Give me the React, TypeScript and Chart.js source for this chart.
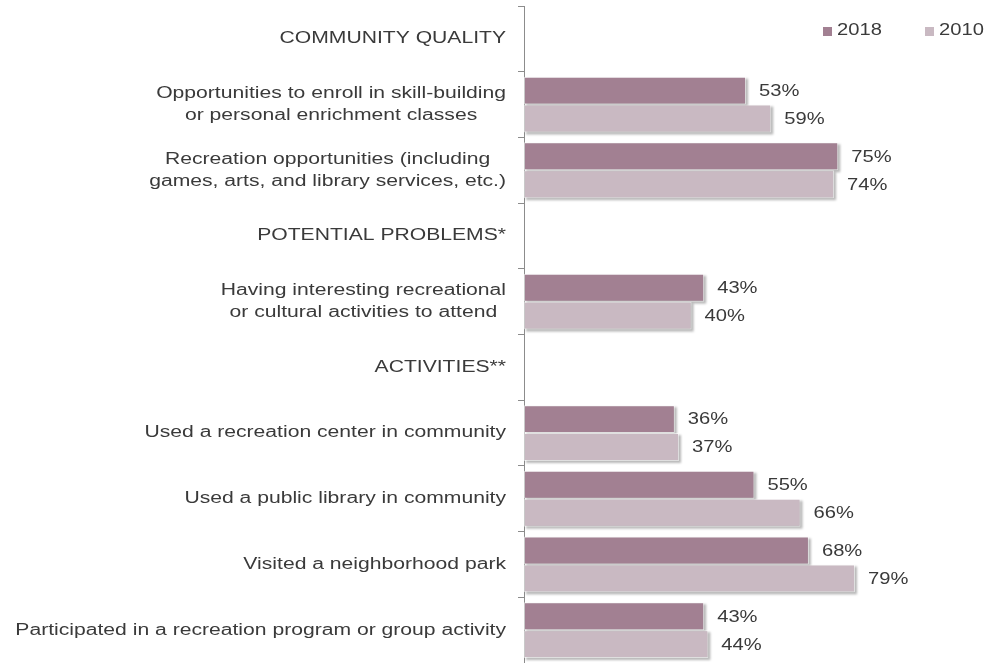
import React, { useEffect, useRef } from "react";
import { Chart, registerables } from "chart.js";

Chart.register(...registerables);

const categories: (string | string[])[] = [
  "COMMUNITY QUALITY",
  ["Opportunities to enroll in skill-building", "or personal enrichment classes"],
  ["Recreation opportunities (including", "games, arts, and library services, etc.)"],
  "POTENTIAL PROBLEMS*",
  ["Having interesting recreational", "or cultural activities to attend"],
  "ACTIVITIES**",
  "Used a recreation center in community",
  "Used a public library in community",
  "Visited a neighborhood park",
  "Participated in a recreation program or group activity",
];

const seriesNames = ["2018", "2010"];
const values2018: (number | null)[] = [null, 53, 75, null, 43, null, 36, 55, 68, 43];
const values2010: (number | null)[] = [null, 59, 74, null, 40, null, 37, 66, 79, 44];

const COLOR_2018 = "#A28092";
const COLOR_2010 = "#C9B9C2";
const TEXT_COLOR = "#3a3a3a";
const FONT = '16px "Liberation Sans", Arial, sans-serif';
const SX_LABEL = 1.32;
const SX_VALUE = 1.26;

function drawStretched(ctx: CanvasRenderingContext2D, text: string, x: number, y: number, align: CanvasTextAlign, sx: number) {
  ctx.save();
  ctx.translate(x, y);
  ctx.scale(sx, 1);
  ctx.textAlign = align;
  ctx.textBaseline = "middle";
  ctx.fillText(text, 0, 0);
  ctx.restore();
}

const shadowPlugin = {
  id: "barShadow",
  beforeDatasetsDraw(chart: any) {
    const ctx = chart.ctx as CanvasRenderingContext2D;
    ctx.save();
    ctx.fillStyle = "rgba(0,0,0,0.28)";
    ctx.filter = "blur(1px)";
    chart.data.datasets.forEach((_ds: any, di: number) => {
      const meta = chart.getDatasetMeta(di);
      meta.data.forEach((el: any, i: number) => {
        const v = chart.data.datasets[di].data[i];
        if (v === null || v === undefined) return;
        const left = Math.min(el.base, el.x);
        const w = Math.abs(el.x - el.base);
        const top = el.y - el.height / 2;
        ctx.fillRect(left + 2, top + 2, w, el.height);
      });
    });
    ctx.restore();
  },
};

const textPlugin = {
  id: "customText",
  afterDraw(chart: any) {
    const ctx = chart.ctx as CanvasRenderingContext2D;
    const yScale = chart.scales.y;
    ctx.save();
    ctx.font = FONT;
    ctx.fillStyle = TEXT_COLOR;
    // category labels: block right-aligned, lines centred within block
    const rightEdge = yScale.right - 18;
    const lineH = 22;
    chart.data.labels.forEach((lab: any, i: number) => {
      const lines: string[] = Array.isArray(lab) ? lab : [lab];
      const widths = lines.map((l) => ctx.measureText(l).width * SX_LABEL);
      const blockW = Math.max(...widths);
      const cx = rightEdge - blockW / 2;
      const cy = yScale.getPixelForValue(i);
      const y0 = cy - ((lines.length - 1) * lineH) / 2;
      lines.forEach((l, li) => drawStretched(ctx, l, cx, y0 + li * lineH, "center", SX_LABEL));
    });
    // value labels
    chart.data.datasets.forEach((ds: any, di: number) => {
      const meta = chart.getDatasetMeta(di);
      meta.data.forEach((el: any, i: number) => {
        const v = ds.data[i];
        if (v === null || v === undefined) return;
        drawStretched(ctx, v + "%", el.x + 13, el.y + 1, "left", SX_VALUE);
      });
    });
    // legend
    const legendX = [823, 925];
    chart.data.datasets.forEach((ds: any, di: number) => {
      ctx.fillStyle = ds.backgroundColor;
      ctx.fillRect(legendX[di], 27, 9, 9);
      ctx.fillStyle = TEXT_COLOR;
      drawStretched(ctx, ds.label, legendX[di] + 14, 31, "left", SX_VALUE);
    });
    ctx.restore();
  },
};

export default function App() {
  const ref = useRef<HTMLCanvasElement | null>(null);
  useEffect(() => {
    if (!ref.current) return;
    const chart = new Chart(ref.current, {
      type: "bar",
      data: {
        labels: categories as any,
        datasets: [
          {
            label: seriesNames[0],
            data: values2018,
            backgroundColor: COLOR_2018,
            borderColor: "rgba(255,255,255,0.55)",
            borderWidth: 1,
            borderSkipped: false,
          },
          {
            label: seriesNames[1],
            data: values2010,
            backgroundColor: COLOR_2010,
            borderColor: "rgba(255,255,255,0.55)",
            borderWidth: 1,
            borderSkipped: false,
          },
        ],
      },
      options: {
        indexAxis: "y",
        animation: false,
        responsive: false,
        devicePixelRatio: 1,
        layout: { padding: { left: 518, top: 6, right: 46, bottom: 0 } },
        datasets: { bar: { categoryPercentage: 0.85, barPercentage: 1.0 } },
        plugins: { legend: { display: false }, tooltip: { enabled: false } },
        scales: {
          x: { display: false, min: 0, max: 100 },
          y: {
            ticks: { display: false },
            grid: {
              drawOnChartArea: false,
              drawTicks: true,
              tickLength: 6,
              color: "#8c8c8c",
              offset: true,
            },
            border: { display: true, color: "#8c8c8c", width: 1 },
          },
        },
      },
      plugins: [shadowPlugin, textPlugin],
    });
    return () => chart.destroy();
  }, []);
  return (
    <div style={{ position: "fixed", left: 0, top: 0, width: 989, height: 663, background: "#fff" }}>
      <canvas ref={ref} width={989} height={663} />
    </div>
  );
}
